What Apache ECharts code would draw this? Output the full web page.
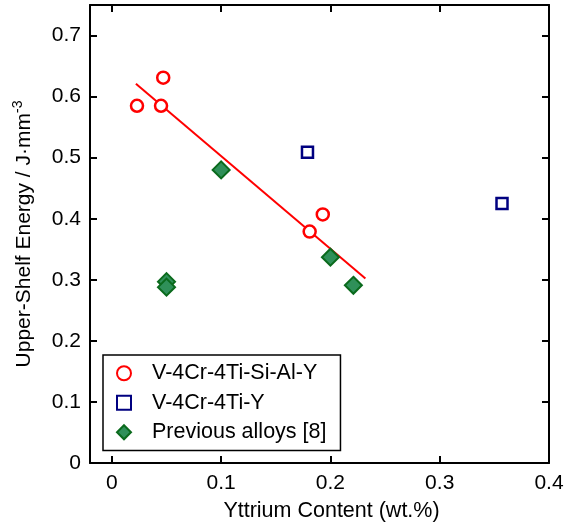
<!DOCTYPE html>
<html lang="en">
<head>
    <meta charset="UTF-8">
    <title>Upper-Shelf Energy vs Yttrium</title>
    <script src="https://cdn.jsdelivr.net/npm/echarts@6/dist/echarts.min.js"></script>
</head>
<body style="margin:0;background:#fff;">
    <div id="main" style="width:575px;height:528px;"></div>
    <script type="text/javascript">
        // values: [Y wt.%, USE J/mm^3]
        const siAlY = [[0.023, 0.585], [0.047, 0.631], [0.045, 0.585], [0.193, 0.407], [0.181, 0.379]]
        const simpleY = [[0.179, 0.509], [0.357, 0.425]]
        const previous = [[0.100, 0.480], [0.050, 0.297], [0.050, 0.288], [0.200, 0.337], [0.221, 0.291]]
        const fitLine = [[0.022, 0.621], [0.232, 0.302]]
        const xTicks = [0, 0.1, 0.2, 0.3, 0.4]
        const yTicks = [0, 0.1, 0.2, 0.3, 0.4, 0.5, 0.6, 0.7]
        const names = ['V-4Cr-4Ti-Si-Al-Y', 'V-4Cr-4Ti-Y', 'Previous alloys [8]']

        const font = 'Liberation Sans, Arial, Helvetica, sans-serif'
        const fmt = v => (Math.abs(v) < 1e-9 ? '0' : (+v.toFixed(2)).toString())

        var myChart = echarts.init(document.getElementById('main'))

        const baseAxis = {
            type: 'value',
            axisLine: { show: true, onZero: false, lineStyle: { color: '#000', width: 2 } },
            axisTick: { show: true, inside: true, length: 7, lineStyle: { color: '#000', width: 2 } },
            splitLine: { show: false }
        }

        var option = {
            animation: false,
            textStyle: { fontFamily: font },
            grid: { left: 90, top: 5, right: 26, bottom: 65 },
            legend: {
                orient: 'vertical',
                left: 103,
                top: 355,
                data: names,
                itemWidth: 14,
                itemHeight: 14,
                itemGap: 5,
                padding: [6, 14, 6, 13],
                borderColor: '#000',
                borderWidth: 1.5,
                backgroundColor: '#fff',
                textStyle: { fontFamily: font, fontSize: 21.5, color: '#000', lineHeight: 24.5, padding: [0, 0, 0, 16] }
            },
            xAxis: [
                {
                    ...baseAxis,
                    min: -0.02, max: 0.4,
                    name: 'Yttrium Content (wt.%)',
                    nameLocation: 'middle',
                    nameGap: 37,
                    nameTextStyle: { fontFamily: font, fontSize: 21.5, color: '#000', padding: [0, 0, 0, 24] },
                    axisTick: { ...baseAxis.axisTick, customValues: xTicks },
                    axisLabel: { customValues: xTicks, formatter: fmt, fontSize: 21, color: '#000', margin: 10, fontFamily: font }
                },
                {
                    ...baseAxis,
                    position: 'top',
                    min: -0.02, max: 0.4,
                    axisTick: { ...baseAxis.axisTick, customValues: xTicks },
                    axisLabel: { show: false }
                }
            ],
            yAxis: [
                {
                    ...baseAxis,
                    min: 0, max: 0.75,
                    name: '{a|Upper-Shelf Energy / J·mm}{b|-3}',
                    nameLocation: 'middle',
                    nameGap: 55,
                    nameTextStyle: {
                        rich: {
                            a: { fontFamily: font, fontSize: 21, color: '#000', verticalAlign: 'bottom', lineHeight: 24 },
                            b: { fontFamily: font, fontSize: 14, color: '#000', verticalAlign: 'top', lineHeight: 24, padding: [0, 0, 10, 0] }
                        }
                    },
                    axisTick: { ...baseAxis.axisTick, customValues: yTicks },
                    axisLabel: { customValues: yTicks, formatter: fmt, fontSize: 21, color: '#000', margin: 9, fontFamily: font }
                },
                {
                    ...baseAxis,
                    position: 'right',
                    min: 0, max: 0.75,
                    axisTick: { ...baseAxis.axisTick, customValues: yTicks },
                    axisLabel: { show: false }
                }
            ],
            series: [
                {
                    name: 'fit',
                    type: 'line',
                    data: fitLine,
                    showSymbol: false,
                    symbol: 'none',
                    lineStyle: { color: '#ff0000', width: 2 },
                    z: 1
                },
                {
                    name: names[0],
                    type: 'scatter',
                    data: siAlY,
                    symbol: 'circle',
                    symbolSize: 12,
                    itemStyle: { color: '#fff', borderColor: '#ff0000', borderWidth: 2.5, opacity: 1 },
                    z: 3
                },
                {
                    name: names[1],
                    type: 'scatter',
                    data: simpleY,
                    symbol: 'rect',
                    symbolSize: 11,
                    itemStyle: { color: '#fff', borderColor: '#000080', borderWidth: 2.5, opacity: 1 },
                    z: 3
                },
                {
                    name: names[2],
                    type: 'scatter',
                    data: previous,
                    symbol: 'diamond',
                    symbolSize: 17,
                    itemStyle: { color: '#2f9059', borderColor: '#0a6a1c', borderWidth: 2, opacity: 1 },
                    z: 3
                }
            ]
        }

        myChart.setOption(option)
    </script>
</body>
</html>
